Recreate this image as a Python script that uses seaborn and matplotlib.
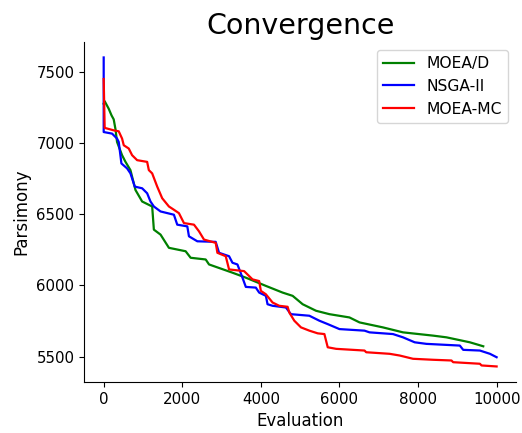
import matplotlib
matplotlib.use("Agg", force=True)
import matplotlib.pyplot as plt
import pandas as pd
import seaborn as sns

# values (evaluation, parsimony)
moead_x = [0, 25, 128, 200, 255, 300, 340, 468, 553, 681, 809, 979, 1234, 1277, 1447, 1660,
           2085, 2213, 2596, 2681, 3277, 3617, 4128, 4553, 4809, 5064, 5404, 5745, 6255, 6511,
           7106, 7617, 8383, 8723, 9319, 9660]
moead_y = [7280, 7297, 7244, 7197, 7169, 7100, 7010, 6917, 6871, 6812, 6672, 6591, 6556, 6393, 6358, 6265,
           6241, 6195, 6183, 6148, 6090, 6055, 5997, 5950, 5927, 5868, 5822, 5798, 5775, 5740,
           5705, 5670, 5647, 5635, 5600, 5572]

nsga_x = [0, 0, 213, 340, 383, 451, 596, 681, 791, 979, 1106, 1191, 1277, 1447, 1787, 1872,
          2128, 2170, 2383, 2851, 2936, 3191, 3277, 3404, 3532, 3617, 3872, 3957, 4128, 4170,
          4298, 4638, 4766, 5234, 5489, 5702, 6000, 6638, 6766, 7362, 7617, 7915, 8213, 9064,
          9149, 9574, 9830, 10000]
nsga_y = [7605, 7080, 7069, 7034, 7010, 6859, 6824, 6789, 6696, 6684, 6649, 6591, 6556, 6521, 6498, 6428,
          6416, 6346, 6311, 6307, 6230, 6206, 6160, 6148, 6055, 5990, 5985, 5950, 5927, 5868,
          5857, 5845, 5798, 5787, 5752, 5728, 5693, 5682, 5670, 5658, 5635, 5600, 5589, 5577,
          5547, 5542, 5519, 5495]

mc_x = [0, 25, 43, 255, 383, 468, 511, 638, 723, 851, 1106, 1149, 1234, 1362, 1489, 1660,
        1787, 1915, 2043, 2298, 2426, 2553, 2851, 2894, 3106, 3191, 3574, 3787, 3957, 4000,
        4128, 4298, 4468, 4681, 4723, 4851, 5021, 5234, 5447, 5617, 5702, 5915, 6638, 6681,
        7277, 7532, 7872, 8383, 8851, 8894, 9574, 9617, 10000]
mc_y = [7453, 7108, 7108, 7092, 7085, 7034, 6987, 6964, 6917, 6882, 6870, 6812, 6789, 6696, 6614, 6556,
        6533, 6509, 6439, 6428, 6381, 6323, 6300, 6230, 6206, 6113, 6101, 6043, 6031, 5962,
        5938, 5880, 5857, 5850, 5810, 5752, 5705, 5682, 5663, 5658, 5565, 5554, 5542, 5530,
        5519, 5507, 5484, 5477, 5472, 5460, 5449, 5437, 5430]

algorithms = ["MOEA/D", "NSGA-II", "MOEA-MC"]
colors = ["green", "blue", "red"]


def main() -> None:
    frames = []
    for name, xs, ys in zip(algorithms, [moead_x, nsga_x, mc_x], [moead_y, nsga_y, mc_y]):
        frames.append(pd.DataFrame({"Evaluation": xs, "Parsimony": ys, "algorithm": name}))
    df = pd.concat(frames, ignore_index=True)

    fig = plt.figure(figsize=(5.22, 4.33), dpi=100)
    ax = fig.add_axes([0.161, 0.118, 0.828, 0.785])
    sns.lineplot(data=df, x="Evaluation", y="Parsimony", hue="algorithm", hue_order=algorithms,
                 palette=colors, estimator=None, sort=False, linewidth=1.6, ax=ax)
    sns.despine(ax=ax)
    ax.set_title("Convergence", fontsize=20.5)
    ax.set_xlabel("Evaluation", fontsize=12)
    ax.set_ylabel("Parsimony", fontsize=12)
    ax.tick_params(labelsize=10.8)
    ax.set_xticks([0, 2000, 4000, 6000, 8000, 10000])
    ax.set_yticks([5500, 6000, 6500, 7000, 7500])
    ax.legend(loc="upper right", fontsize=11.2)
    fig.savefig("out.png", dpi=100)
    plt.close(fig)


if __name__ == "__main__":
    main()
